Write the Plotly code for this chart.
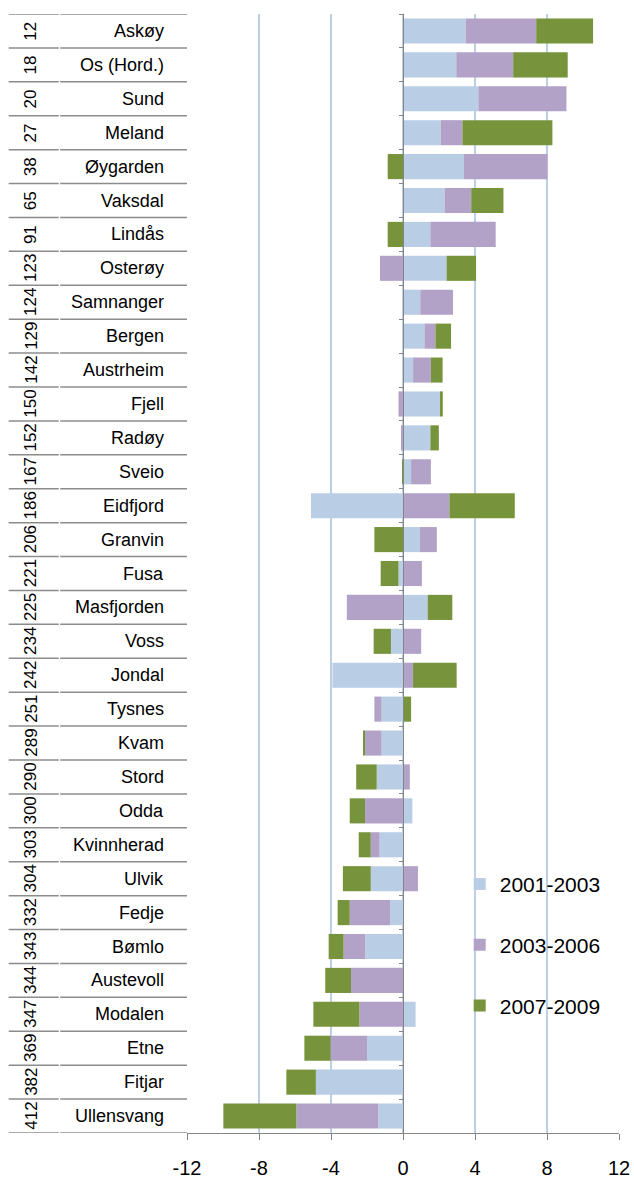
import plotly.graph_objects as go

ranks = [12, 18, 20, 27, 38, 65, 91, 123, 124, 129, 142, 150, 152, 167, 186, 206, 221,
         225, 234, 242, 251, 289, 290, 300, 303, 304, 332, 343, 344, 347, 369, 382, 412]
names = ["Askøy", "Os (Hord.)", "Sund", "Meland", "Øygarden", "Vaksdal", "Lindås", "Osterøy",
         "Samnanger", "Bergen", "Austrheim", "Fjell", "Radøy", "Sveio", "Eidfjord", "Granvin",
         "Fusa", "Masfjorden", "Voss", "Jondal", "Tysnes", "Kvam", "Stord", "Odda", "Kvinnherad",
         "Ulvik", "Fedje", "Bømlo", "Austevoll", "Modalen", "Etne", "Fitjar", "Ullensvang"]

s2001_2003 = [3.48, 2.96, 4.19, 2.09, 3.39, 2.31, 1.52, 2.42, 0.96, 1.19, 0.56, 2.10, 1.52, 0.45,
              -5.11, 0.94, -0.25, 1.37, -0.67, -3.92, -1.19, -1.19, -1.46, 0.52, -1.30, -1.79,
              -0.70, -2.09, 0.0, 0.70, -2.00, -4.84, -1.37]
s2003_2006 = [3.92, 3.16, 4.89, 1.21, 4.64, 1.48, 3.63, -1.28, 1.82, 0.61, 0.99, -0.25, -0.10, 1.10,
              2.58, 0.94, 1.05, -3.12, 1.01, 0.56, -0.40, -0.94, 0.38, -2.11, -0.49, 0.83,
              -2.26, -1.21, -2.89, -2.42, -2.02, 0.0, -4.55]
s2007_2009 = [3.16, 3.03, 0.0, 5.00, -0.85, 1.79, -0.85, 1.64, 0.0, 0.87, 0.65, 0.11, 0.47, -0.05,
              3.63, -1.59, -0.99, 1.37, -0.96, 2.42, 0.45, -0.07, -1.14, -0.85, -0.67, -1.55,
              -0.67, -0.83, -1.43, -2.56, -1.46, -1.64, -4.06]

series_names = ["2001-2003", "2003-2006", "2007-2009"]
colors = ["#B9CDE5", "#B3A2C7", "#77933C"]
x_ticks = [-12, -8, -4, 0, 4, 8, 12]

FONT = "Liberation Sans, Arial, sans-serif"

fig = go.Figure()
for nm, vals, col in zip(series_names, [s2001_2003, s2003_2006, s2007_2009], colors):
    fig.add_trace(go.Bar(
        y=names, x=vals, orientation="h", name=nm, legendgroup=nm,
        marker=dict(color=col, line=dict(width=0)),
    ))

n = len(names)
L, R, T, B = 187.3, 14.7, 14, 44.7
W = 634 - L - R
H = 1178 - T - B


def px(xpix):
    return (xpix - L) / W


def py(ypix):
    return (1178 - B - ypix) / H


shapes = []
for i in range(n + 1):
    yb = i - 0.5
    shapes.append(dict(type="line", xref="paper", yref="y", x0=px(9), x1=px(59), y0=yb, y1=yb,
                       line=dict(color="#8C8C8C", width=1.5)))
    shapes.append(dict(type="line", xref="paper", yref="y", x0=px(60.5), x1=0, y0=yb, y1=yb,
                       line=dict(color="#8C8C8C", width=1.5)))

annotations = []
for i, (r, nm) in enumerate(zip(ranks, names)):
    annotations.append(dict(xref="paper", yref="y", x=px(31), y=i, text=str(r), showarrow=False,
                            textangle=-90, font=dict(family=FONT, size=17, color="black"),
                            xanchor="center", yanchor="middle"))
    annotations.append(dict(xref="paper", yref="y", x=px(166), y=i, text=nm, showarrow=False,
                            font=dict(family=FONT, size=18, color="black"),
                            xanchor="right", yanchor="middle"))

fig.update_layout(
    width=634, height=1178,
    margin=dict(l=L, r=R, t=T, b=B, pad=0, autoexpand=False),
    barmode="relative", bargap=0.26,
    plot_bgcolor="white", paper_bgcolor="white",
    font=dict(family=FONT, color="black"),
    shapes=shapes, annotations=annotations,
    xaxis=dict(range=[-12, 12], tickvals=x_ticks, ticktext=[str(v) for v in x_ticks],
               automargin=False,
               showgrid=True, gridcolor="#BCCFE6", gridwidth=1.5, zeroline=False,
               showline=True, linecolor="#868686", linewidth=1.3,
               ticks="outside", ticklen=6, tickcolor="#868686", tickwidth=1.3,
               tickfont=dict(family=FONT, size=20, color="black"), ticklabelstandoff=11),
    yaxis=dict(type="category", categoryorder="array", categoryarray=names,
               automargin=False,
               range=[n - 0.5, -0.5], anchor="free", position=0.5,
               showline=True, linecolor="#868686", linewidth=1.3,
               ticks="outside", tickson="boundaries", ticklen=4, tickcolor="#868686",
               tickwidth=1.3, showticklabels=False, showgrid=False, zeroline=False),
    legend=dict(x=px(460), y=py(864), xanchor="left", yanchor="top",
                bgcolor="rgba(0,0,0,0)", traceorder="grouped", tracegroupgap=30.5,
                font=dict(family=FONT, size=21, color="black")),
)

fig.write_html("out.html", config={"displayModeBar": False},
               post_script="document.body.style.margin='0';document.body.style.overflow='hidden';")
